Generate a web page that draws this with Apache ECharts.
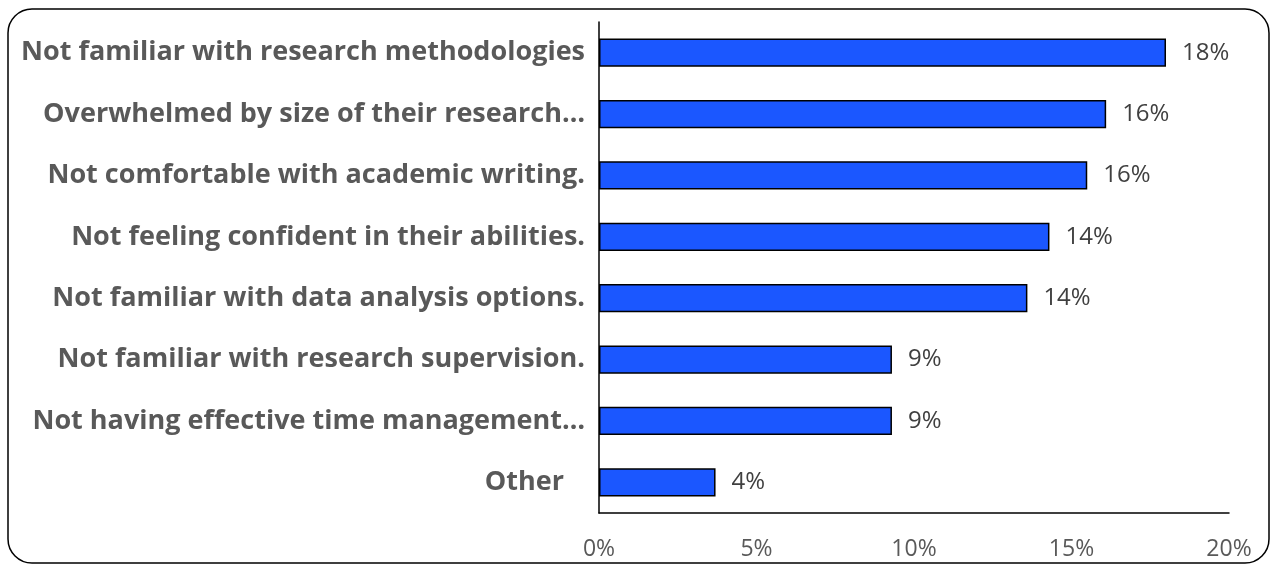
<!DOCTYPE html>
<html>
<head>
<meta charset="utf-8">
<script src="https://cdn.jsdelivr.net/npm/echarts@6/dist/echarts.min.js"></script>
<style>
  html, body { margin: 0; padding: 0; background: #fff; }
  #chart { width: 1273px; height: 568px; }
</style>
</head>
<body>
<div id="chart"></div>
<script>
// categories (top to bottom)
const categories = [
  'Not familiar with research methodologies',
  'Overwhelmed by size of their research\u2026',
  'Not comfortable with academic writing.',
  'Not feeling confident in their abilities.',
  'Not familiar with data analysis options.',
  'Not familiar with research supervision.',
  'Not having effective time management\u2026',
  'Other'
]
// share of respondents, %
const shares = [18.0, 16.1, 15.5, 14.3, 13.6, 9.3, 9.3, 3.7]
const xTicks = [0, 5, 10, 15, 20]

const chart = echarts.init(document.getElementById('chart'))
const option = {
  animation: false,
  graphic: [
    {
      type: 'rect',
      shape: { x: 8, y: 9, width: 1261, height: 554, r: 24 },
      style: { fill: 'none', stroke: '#000', lineWidth: 1.5 },
      silent: true
    }
  ],
  grid: { left: 599, right: 44, top: 22, bottom: 55 },
  xAxis: {
    type: 'value',
    min: xTicks[0],
    max: xTicks[xTicks.length - 1],
    interval: 5,
    axisLine: { show: true, lineStyle: { color: '#000', width: 1.5 } },
    axisTick: { show: false },
    splitLine: { show: false },
    axisLabel: {
      formatter: v => v + '%',
      color: '#595959',
      fontFamily: 'Open Sans',
      fontSize: 23,
      margin: 25
    }
  },
  yAxis: {
    type: 'category',
    data: categories,
    inverse: true,
    axisLine: { show: true, lineStyle: { color: '#000', width: 1.5 } },
    axisTick: { show: false },
    axisLabel: {
      color: '#595959',
      fontFamily: 'Open Sans',
      fontWeight: 'bold',
      fontSize: 27,
      margin: 14,
      formatter: v => v === 'Other' ? '{o|' + v + '}' : v,
      rich: {
        o: {
          color: '#595959',
          fontFamily: 'Open Sans',
          fontWeight: 'bold',
          fontSize: 27,
          padding: [0, 21, 0, 0]
        }
      }
    }
  },
  series: [
    {
      type: 'bar',
      data: shares,
      barCategoryGap: '54%',
      itemStyle: { color: '#1B57FF', borderColor: '#000', borderWidth: 1.5 },
      label: {
        show: true,
        position: 'right',
        distance: 16,
        formatter: p => Math.round(p.value) + '%',
        color: '#404040',
        fontFamily: 'Open Sans',
        fontSize: 24
      }
    }
  ]
}
chart.setOption(option)
</script>
</body>
</html>
